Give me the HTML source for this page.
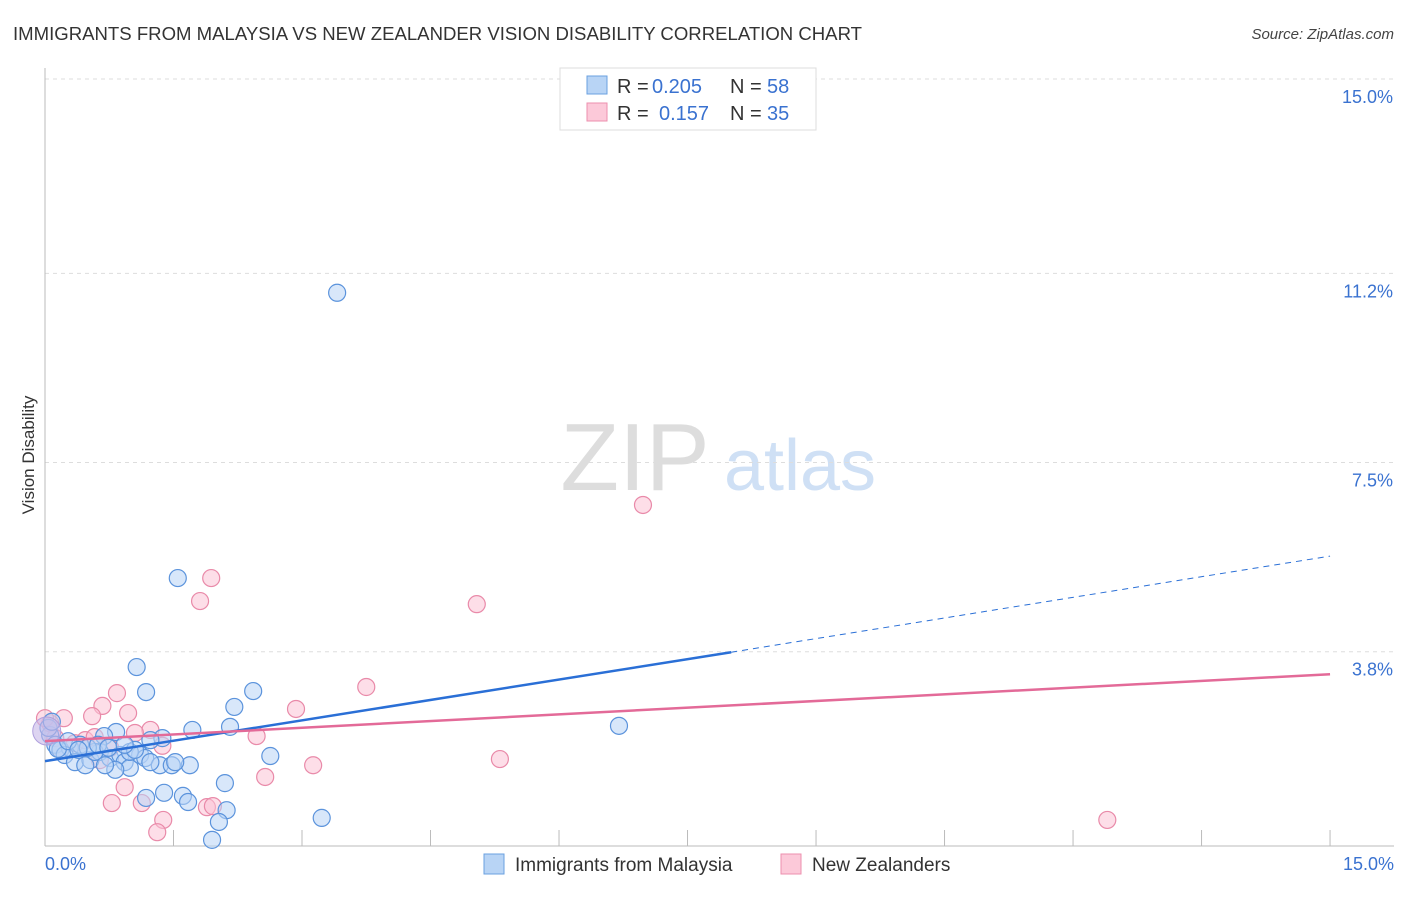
<!DOCTYPE html>
<html><head><meta charset="utf-8"><style>
body{margin:0;background:#fff;font-family:"Liberation Sans",sans-serif;}
svg text{font-family:"Liberation Sans",sans-serif;}
</style></head><body>
<svg id="chart" width="1406" height="892" xmlns="http://www.w3.org/2000/svg">
<text x="13" y="40" font-size="18" fill="#333" textLength="849" lengthAdjust="spacingAndGlyphs">IMMIGRANTS FROM MALAYSIA VS NEW ZEALANDER VISION DISABILITY CORRELATION CHART</text>
<text x="1394" y="39" font-size="15" fill="#444" text-anchor="end" font-style="italic">Source: ZipAtlas.com</text>
<g>
<text x="635" y="490" font-size="96" fill="#ddd" text-anchor="middle" font-family="Liberation Serif">ZIP</text>
<text x="800" y="490" font-size="72" fill="#cfe0f5" text-anchor="middle">atlas</text>
</g>
<g id="grid"></g>
<g id="axes"></g>
<g id="marks"></g>
<text transform="translate(34,455) rotate(-90)" font-size="17" fill="#333" text-anchor="middle">Vision Disability</text>
<g>
<rect x="560" y="68" width="256" height="62" fill="#fff" stroke="#ddd"/>
<rect x="587" y="76" width="20" height="18" fill="#b8d4f5" stroke="#6aa0e0"/>
<rect x="587" y="103" width="20" height="18" fill="#fcc9d9" stroke="#ec8fae"/>
<text x="617" y="93" font-size="20" fill="#333">R =</text>
<text x="652" y="93" font-size="20" fill="#3a72d0">0.205</text>
<text x="730" y="93" font-size="20" fill="#333">N =</text>
<text x="767" y="93" font-size="20" fill="#3a72d0">58</text>
<text x="617" y="120" font-size="20" fill="#333">R =</text>
<text x="659" y="120" font-size="20" fill="#3a72d0">0.157</text>
<text x="730" y="120" font-size="20" fill="#333">N =</text>
<text x="767" y="120" font-size="20" fill="#3a72d0">35</text>
</g>
<g>
<rect x="484" y="854" width="20" height="20" fill="#b8d4f5" stroke="#6aa0e0"/>
<text x="515" y="871" font-size="19" fill="#333">Immigrants from Malaysia</text>
<rect x="781" y="854" width="20" height="20" fill="#fcc9d9" stroke="#ec8fae"/>
<text x="812" y="871" font-size="19" fill="#333">New Zealanders</text>
</g>
</svg>
<script>
const yTicks=[15.0,11.2,7.5,3.8];
const yTickLabels=["15.0%","11.2%","7.5%","3.8%"];
const xLabels=["0.0%","15.0%"];
const blueX=[3.41,1.55,1.07,1.18,2.43,2.21,6.7,2.16,1.72,0.83,0.69,1.37,1.23,2.63,0.06,0.12,0.18,0.29,0.41,0.23,0.35,0.53,0.47,0.64,0.76,0.88,0.93,0.99,1.11,1.17,1.34,1.48,1.69,0.82,0.7,0.58,0.99,2.1,1.18,1.39,1.61,1.67,2.12,2.03,3.23,1.95,0.04,0.08,0.15,0.5,0.62,1.05,1.52,1.23,0.27,0.39,0.74,0.93];
const blueY=[10.82,5.24,3.5,3.01,3.03,2.72,2.35,2.33,2.27,2.23,2.15,2.11,2.07,1.76,2.17,1.98,1.88,1.92,1.98,1.78,1.64,1.68,1.58,1.84,1.72,1.78,1.64,1.53,1.78,1.72,1.58,1.58,1.58,1.49,1.58,1.84,1.84,1.23,0.94,1.04,0.98,0.86,0.7,0.47,0.55,0.12,2.31,2.43,1.9,1.92,1.98,1.88,1.64,1.64,2.05,1.88,1.92,1.98];
const pinkX=[6.98,1.94,1.81,5.04,3.75,0.84,0.67,2.93,0.55,0.97,0.22,1.23,1.05,2.47,1.37,3.13,5.31,2.57,0.93,0.78,1.13,1.89,1.96,1.38,1.31,12.4,0.06,0.12,0.35,0.47,0.64,0.76,0.18,0.58,0.0];
const pinkY=[6.67,5.24,4.79,4.73,3.11,2.99,2.74,2.68,2.54,2.6,2.5,2.27,2.21,2.15,1.96,1.58,1.7,1.35,1.15,0.84,0.84,0.76,0.78,0.51,0.27,0.51,2.4,2.11,2.01,2.07,1.68,1.92,1.88,2.13,2.5];
const blueTrend=[[0,1.66],[8.01,3.79],[15,5.67]];
const pinkTrend=[[0,2.05],[15,3.36]];
const NS="http://www.w3.org/2000/svg";
const X=v=>45+v*85.67, Y=v=>846-v*51.13;
function mk(t,a,p){const e=document.createElementNS(NS,t);for(const k in a)e.setAttribute(k,a[k]);p.appendChild(e);return e;}
const grid=document.getElementById('grid'),axes=document.getElementById('axes'),marks=document.getElementById('marks');
yTicks.forEach((v,i)=>{
 const l=mk('line',{x1:45,x2:1394,y1:Y(v),y2:Y(v),stroke:'#ddd','stroke-dasharray':'4,4'},grid);
 
 
 const t=mk('text',{x:1393,y:Y(v)+24,'font-size':18,fill:'#3a72d0','text-anchor':'end'},axes);
 t.textContent=yTickLabels[i];
 
 
});
const ax=mk('line',{x1:45,x2:45,y1:68,y2:846,stroke:'#bbb'},axes);


const bx=mk('line',{x1:45,x2:1394,y1:846,y2:846,stroke:'#bbb'},axes);


for(let i=1;i<=10;i++){const t=mk('line',{x1:X(i*1.5),x2:X(i*1.5),y1:830,y2:846,stroke:'#bbb'},axes);
 
 }
[[0,'start',45],[15,'end',1394]].forEach((d,i)=>{const t=mk('text',{x:d[2],y:870,'font-size':18,fill:'#3a72d0','text-anchor':d[1]},axes);t.textContent=xLabels[i];
 
 });
function pts(xs,ys,fill,stroke,name){xs.forEach((x,i)=>{const c=mk('circle',{cx:X(x),cy:Y(ys[i]),r:8.5,fill:fill,'fill-opacity':0.55,stroke:stroke,'stroke-width':1.2},marks);
 
 });}
pts(pinkX,pinkY,'#fbc3d5','#e98aa9','pink-point');
pts(blueX,blueY,'#b8d4f5','#5b93dc','blue-point');
const big=mk('circle',{cx:X(0.02),cy:Y(2.25),r:14,fill:'#c7b8e8','fill-opacity':0.6,stroke:'#b0a0dd'},marks);


const b1=mk('line',{x1:X(blueTrend[0][0]),y1:Y(blueTrend[0][1]),x2:X(blueTrend[1][0]),y2:Y(blueTrend[1][1]),stroke:'#2a6fd6','stroke-width':2.5},marks);


const b2=mk('line',{x1:X(blueTrend[1][0]),y1:Y(blueTrend[1][1]),x2:X(blueTrend[2][0]),y2:Y(blueTrend[2][1]),stroke:'#2a6fd6','stroke-width':1,'stroke-dasharray':'6,5'},marks);


const p1=mk('line',{x1:X(pinkTrend[0][0]),y1:Y(pinkTrend[0][1]),x2:X(pinkTrend[1][0]),y2:Y(pinkTrend[1][1]),stroke:'#e36a98','stroke-width':2.5},marks);


</script>
</body></html>
